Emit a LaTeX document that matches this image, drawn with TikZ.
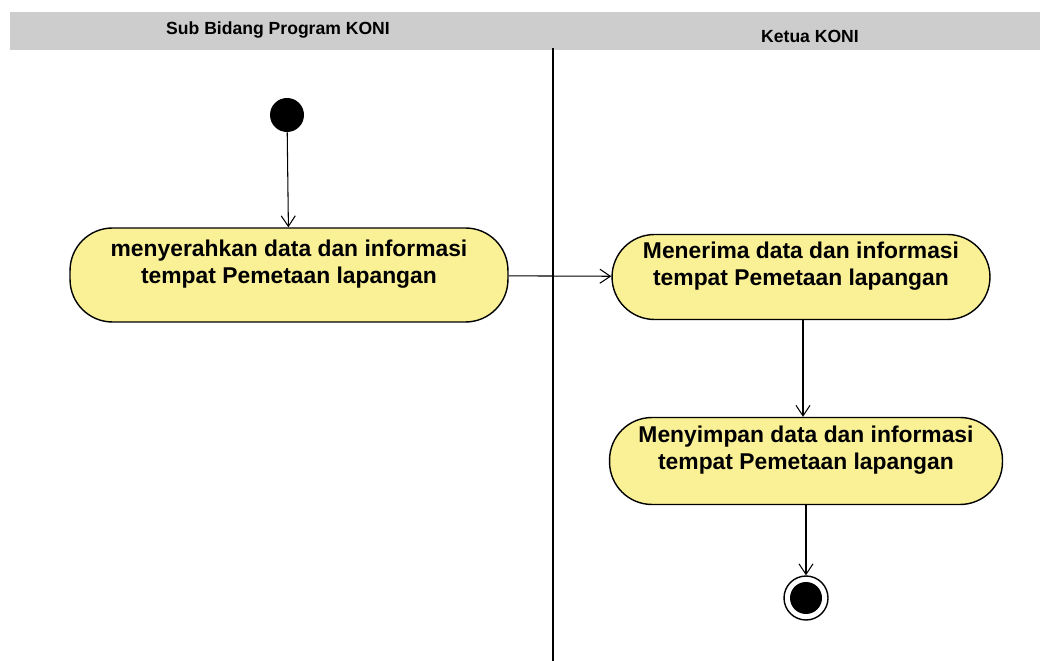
\documentclass[tikz,border=0pt]{standalone}
\usepackage{fontspec}
\setmainfont{Liberation Sans}
\usetikzlibrary{arrows.meta,positioning}
\definecolor{actfill}{RGB}{250,240,150}
\definecolor{lanegray}{RGB}{205,205,205}

\begin{document}
\begin{tikzpicture}[
    x=0.02cm, y=-0.02cm,
    activity/.style={draw, thick, fill=actfill, rounded corners=0.85cm,
        align=center, inner sep=2pt,
        font=\bfseries\fontsize{13}{15.5}\selectfont},
    flow/.style={-{Straight Barb[length=6pt,width=8pt]}, semithick},
    lane/.style={font=\bfseries\fontsize{10}{12}\selectfont},
]
\useasboundingbox (0,0) rectangle (1040,661);
\fill[lanegray] (10,12) rectangle (1040,50);
\node[lane] (laneA) at (278,30) {Sub Bidang Program KONI};
\node[lane] (laneB) at (810,36) {Ketua KONI};
\draw[semithick] (553,48) -- (553,661);

\node[circle, fill=black, minimum size=0.68cm, inner sep=0pt] (start) at (287,115) {};
\node[activity, minimum width=8.76cm, minimum height=1.88cm] (serah) at (289,275)
    {menyerahkan data dan informasi\\tempat Pemetaan lapangan\\ \mbox{}};
\node[activity, minimum width=7.56cm, minimum height=1.7cm] (terima) at (801,277)
    {Menerima data dan informasi\\tempat Pemetaan lapangan\\ \mbox{}};
\node[activity, minimum width=7.86cm, minimum height=1.74cm] (simpan) at (806,461)
    {Menyimpan data dan informasi\\tempat Pemetaan lapangan\\ \mbox{}};
\node[circle, draw, thick, minimum size=0.88cm, inner sep=0pt] (stop) at (806,598) {};
\node[circle, fill=black, minimum size=0.64cm, inner sep=0pt] (stopdot) at (stop) {};

\draw[flow] (start) -- (serah);
\draw[flow] (serah) -- (terima);
\draw[flow] (terima.south -| 803,0) -- (simpan.north -| 803,0);
\draw[flow] (simpan) -- (stop);
\end{tikzpicture}
\end{document}
